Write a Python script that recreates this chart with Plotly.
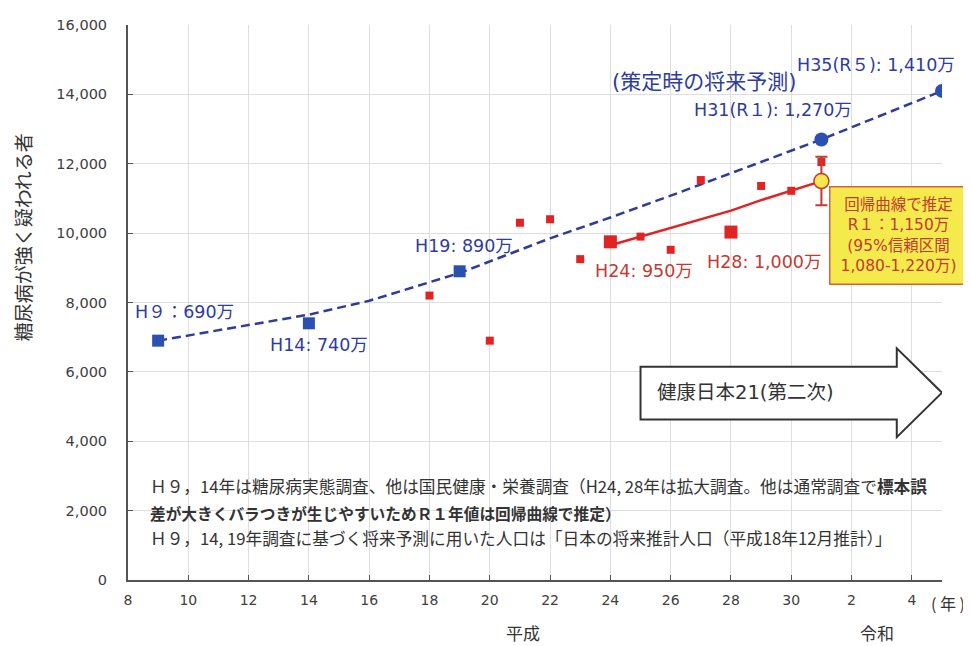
import plotly.graph_objects as go

# ---- data ----
survey_years = [9, 14, 19]
survey_vals = [6900, 7400, 8900]

proj_years = [9, 14, 16, 19, 22, 24, 26, 28, 31, 35]
proj_vals = [6900, 7650, 8050, 8850, 9850, 10450, 11080, 11730, 12700, 14100]

proj_pt_years = [31, 35]
proj_pt_vals = [12700, 14100]

nhns_years = [18, 20, 21, 22, 23, 25, 26, 27, 29, 30, 31]
nhns_vals = [8200, 6900, 10300, 10400, 9250, 9900, 9520, 11530, 11360, 11220, 12050]

big_years = [24, 28]
big_vals = [9750, 10030]

reg_years = [24, 25, 26, 27, 28, 29, 30, 31]
reg_vals = [9650, 9900, 10130, 10380, 10650, 10950, 11220, 11500]

est_year = [31]
est_val = [11500]
est_hi = [12200]
est_lo = [10800]

tick_vals = [8, 10, 12, 14, 16, 18, 20, 22, 24, 26, 28, 30, 32, 34]
tick_text = ["8", "10", "12", "14", "16", "18", "20", "22", "24", "26", "28", "30", "2", "4"]

BLUE = "#2a50b4"
NAVY = "#2e3c9c"
RED = "#e02424"
RED_T = "#c43a32"
FONT = "DejaVu Sans, Noto Sans CJK JP, sans-serif"
JFONT = "Noto Sans CJK JP, sans-serif"

fig = go.Figure()

fig.add_trace(go.Scatter(x=proj_years, y=proj_vals, mode="lines",
                         line=dict(color=NAVY, width=2.5, dash="9px,5px"),
                         hoverinfo="skip", showlegend=False))
fig.add_trace(go.Scatter(x=survey_years, y=survey_vals, mode="markers",
                         marker=dict(symbol="square", size=12, color=BLUE),
                         showlegend=False))
fig.add_trace(go.Scatter(x=proj_pt_years, y=proj_pt_vals, mode="markers",
                         marker=dict(symbol="circle", size=14, color=BLUE),
                         showlegend=False))
fig.add_trace(go.Scatter(x=reg_years, y=reg_vals, mode="lines",
                         line=dict(color=RED, width=2.5),
                         showlegend=False))
fig.add_trace(go.Scatter(x=nhns_years, y=nhns_vals, mode="markers",
                         marker=dict(symbol="square", size=8, color=RED),
                         showlegend=False))
fig.add_trace(go.Scatter(x=big_years, y=big_vals, mode="markers",
                         marker=dict(symbol="square", size=13, color=RED),
                         showlegend=False))
fig.add_trace(go.Scatter(x=est_year, y=est_val, mode="markers",
                         error_y=dict(type="data", symmetric=False,
                                      array=[h - v for h, v in zip(est_hi, est_val)],
                                      arrayminus=[v - l for l, v in zip(est_lo, est_val)],
                                      color=RED_T, thickness=2, width=6),
                         marker=dict(symbol="circle", size=15, color="#f4e94c",
                                     line=dict(color=RED_T, width=1.5)),
                         showlegend=False))

# arrow shape (健康日本21)
arrow = "M 25,6150 L 33.5,6150 L 33.5,6680 L 35,5400 L 33.5,4120 L 33.5,4630 L 25,4630 Z"
fig.add_shape(type="path", path=arrow, xref="x", yref="y",
              fillcolor="white", line=dict(color="#333333", width=2))

ann = []
def lab(text, x, y, color, size=17.5, anchor="left", font=FONT, **kw):
    ann.append(dict(text=text, x=x, y=y, xref="x", yref="y", showarrow=False,
                    xanchor=anchor, yanchor="middle",
                    font=dict(family=font, size=size, color=color), **kw))

lab("H９：690万", 8.17, 7730, NAVY)
lab("H14: 740万", 12.64, 6764, NAVY)
lab("H19: 890万", 17.45, 9634, NAVY)
lab("(策定時の将来予測)", 23.99, 14352, NAVY, size=21)
lab("H35(R５): 1,410万", 30.12, 14835, NAVY)
lab("H31(R１): 1,270万", 26.71, 13557, NAVY)
lab("H24: 950万", 23.42, 8896, RED_T)
lab("H28: 1,000万", 27.14, 9180, RED_T)
lab("健康日本21(第二次)", 25.48, 5400, "#333333", size=19.5)

ann.append(dict(text="回帰曲線で推定<br>R１：1,150万<br>(95%信頼区間<br>1,080-1,220万)",
                x=33.57, y=9946, xref="x", yref="y", showarrow=False,
                xanchor="center", yanchor="middle", align="center",
                width=134, height=94, bgcolor="#f4ea4c", bordercolor="#d2663a",
                borderwidth=1.5, borderpad=1,
                font=dict(family=FONT, size=15.5, color=RED_T)))

def pap(text, x, y, size=16.7, color="#333333", anchor="left", **kw):
    ann.append(dict(text=text, x=x, y=y, xref="paper", yref="paper", showarrow=False,
                    xanchor=anchor, yanchor="middle",
                    font=dict(family=JFONT, size=size, color=color), **kw))

pap("Ｈ９，14年は糖尿病実態調査、他は国民健康・栄養調査（H24, 28年は拡大調査。他は通常調査で<b>標本誤</b>",
    0.0246, 0.169)
pap("<b>差が大きくバラつきが生じやすいためＲ１年値は回帰曲線で推定）</b>", 0.0246, 0.119, size=15.7)
pap("Ｈ９，14, 19年調査に基づく将来予測に用いた人口は「日本の将来推計人口（平成18年12月推計）」",
    0.0246, 0.076)
pap("糖尿病が強く疑われる者", -0.130, 0.618, size=19, anchor="center", textangle=-90)
pap("平成", 0.485, -0.094, size=17, anchor="center")
pap("令和", 0.920, -0.094, size=17, anchor="center")
pap("( 年 )", 1.031, -0.041, size=16, anchor="right")

# page body has an 8px default margin: shift everything accordingly
fig.update_layout(
    width=963, height=638,
    margin=dict(l=120, r=29, t=9, b=66),
    paper_bgcolor="white", plot_bgcolor="white",
    annotations=ann,
    showlegend=False,
    xaxis=dict(range=[8, 35], tickvals=tick_vals, ticktext=tick_text,
               showgrid=True, gridcolor="#dedede", gridwidth=1,
               showline=True, linecolor="#555555", linewidth=2,
               ticks="inside", ticklen=5, tickcolor="#555555",
               zeroline=False, ticklabelstandoff=6,
               tickfont=dict(family=FONT, size=14, color="#404040")),
    yaxis=dict(range=[0, 16000], dtick=2000, tickformat=",",
               showgrid=True, gridcolor="#dedede", gridwidth=1,
               showline=True, linecolor="#555555", linewidth=2,
               ticks="inside", ticklen=5, tickcolor="#555555",
               zeroline=False, ticklabelstandoff=16,
               tickfont=dict(family=FONT, size=14.5, color="#404040")),
)

fig.write_html("out.html")
